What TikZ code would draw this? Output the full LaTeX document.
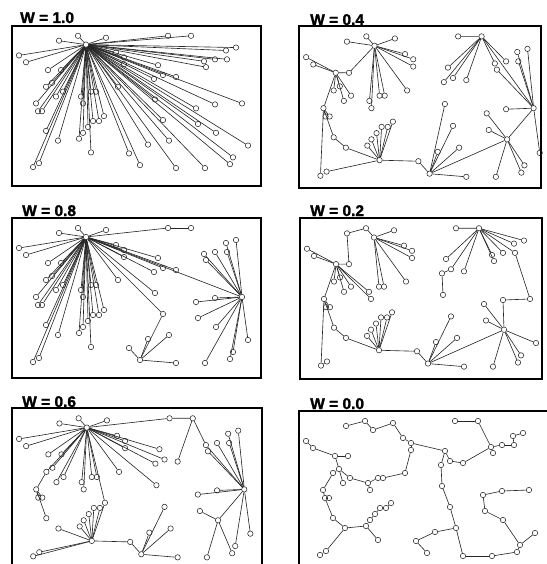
\documentclass[tikz,border=0pt]{standalone}
\usepackage{fontspec}
\setmainfont{Liberation Sans}
\newfontfamily\ttlfont[FakeBold=1.6]{Liberation Sans Bold}
\tikzset{
  pt/.style={circle,draw=black!85,line width=0.55pt,minimum size=5.4pt,inner sep=0pt},
  edge/.style={draw=black!85,line width=0.62pt},
  frame/.style={draw=black,line width=1.4pt},
  ttl/.style={anchor=base west,inner sep=0pt,font=\fontsize{15.5}{16}\selectfont\ttlfont}
}
\def\pts{a1/47/15,a2/66/10,a3/74/19,a4/94/12,a5/104/27,a6/112/32,a7/112/39,a8/106/62,b1/7/30,b2/14/37,b3/36/45,b4/49/45,b5/34/62,b6/40/58,b7/44/72,b8/51/67,b9/69/72,b10/71/79,b11/79/67,b12/84/67,c1/24/79,c2/26/87,c3/30/87,c4/34/107,c5/46/117,c6/67/115,c7/71/109,c8/76/103,c9/81/97,c10/87/97,c11/92/92,c12/79/129,c13/21/144,c14/27/140,d1/117/130,d2/128/142,d3/136/121,d4/157/117,d5/164/145,d6/193/145,d7/218/141,d8/221/134,d9/236/122,d10/204/109,d11/186/100,d12/184/84,d13/203/80,d14/230/79,e1/151/96,e2/143/75,e3/142/54,e4/146/40,e5/151/50,e6/164/52,e7/156/10,e8/179/10,e9/192/36,e10/194/42,e11/203/34,e12/215/34,e14/214/25,e15/224/22}
% #1 prefix, #2 #3 frame origin, #4 #5 scales, #6 edges
\newcommand\treepanel[6]{%
  \begin{scope}[shift={(#2,#3)},xscale=#4,yscale=#5]
    \foreach \n/\x/\y in \pts {\node[pt] (#1\n) at (\x,\y) {};}
    \foreach \u/\v in {#6} {\draw[edge] (#1\u) -- (#1\v);}
  \end{scope}}
\begin{document}
\begin{tikzpicture}[x=1pt,y=-1pt]
\useasboundingbox (0,0) rectangle (546,564);
% frames
\draw[frame] (12,26) rectangle (261,186);
\draw[frame] (299,26) rectangle (541,188);
\draw[frame] (12,218) rectangle (261,378);
\draw[frame] (300,218) rectangle (542,379);
\draw[frame] (12,566) -- (12,408) -- (262,408) -- (262,566);
\draw[frame] (299,566) -- (299,411) -- (548,411);
% titles
\node[ttl] (t1) at (20,23) {W = 1.0};
\node[ttl] (t2) at (310,25) {W = 0.4};
\node[ttl] (t3) at (22,216) {W = 0.8};
\node[ttl] (t4) at (310,216) {W = 0.2};
\node[ttl] (t5) at (22,407) {W = 0.6};
\node[ttl] (t6) at (310,409) {W = 0.0};
% W = 1.0
\treepanel{P}{12}{26}{1}{0.98}{a3/a1,a3/a2,a3/a4,a3/a5,a3/a6,a3/a7,a3/a8,a3/b1,a3/b2,a3/b3,a3/b4,a3/b5,a3/b6,a3/b7,a3/b8,a3/b9,a3/b10,a3/b11,a3/b12,a3/c1,a3/c2,a3/c3,a3/c4,a3/c5,a3/c6,a3/c7,a3/c8,a3/c9,a3/c10,a3/c11,a3/c12,a3/c13,a3/c14,a3/d1,a3/d2,a3/d3,a3/d4,a3/d5,a3/d6,a3/d7,a3/d8,a3/d9,a3/d10,a3/d11,a3/d12,a3/d13,a3/d14,a3/e1,a3/e2,a3/e3,a3/e4,a3/e5,a3/e6,a3/e7,a3/e8,a3/e9,a3/e10,a3/e11,a3/e12,a3/e14,a3/e15}
% W = 0.4
\treepanel{Q}{299}{26}{1.02}{1.04}{a3/a1,a3/a2,a3/a4,a3/a5,a3/a6,a3/a7,a3/a8,a3/b9,a3/b10,a3/b11,a3/b12,a3/b4,b4/b3,b3/b1,b3/b2,b3/b5,b3/b6,b3/b7,b3/b8,b3/c1,c1/c2,c1/c3,c1/c13,c1/c4,c4/c5,c5/c12,c12/c6,c12/c7,c12/c8,c12/c9,c12/c10,c12/c11,c12/c14,c12/d1,d1/d2,d2/d3,d2/d4,d2/d5,d2/e1,d2/e2,d2/d10,d10/d11,d10/d12,d10/d6,d10/d7,d10/d8,d10/d14,d14/d13,d14/d9,d14/e15,d14/e14,d14/e12,d14/e10,d14/e8,e8/e7,e8/e4,e8/e3,e8/e5,e8/e6,e8/e9,e8/e11}
% W = 0.8
\treepanel{R}{12}{218}{1}{1}{a3/a1,a3/a2,a3/a4,a3/a5,a3/a6,a3/a7,a3/a8,a3/b1,a3/b2,a3/b3,a3/b4,a3/b5,a3/b6,a3/b7,a3/b8,a3/b9,a3/b10,a3/b11,a3/b12,a3/c1,a3/c2,a3/c3,a3/c4,a3/c5,a3/c6,a3/c7,a3/c8,a3/c9,a3/c10,a3/c11,a3/c12,a3/c13,a3/c14,a3/e1,a3/e2,a3/e3,a3/e4,a3/e5,a3/e6,a3/e7,a3/d14,e7/e8,e1/d2,d2/d1,d2/d3,d2/d4,d2/d5,d14/d6,d14/d7,d14/d8,d14/d9,d14/d10,d14/d11,d14/d12,d14/d13,d14/e9,d14/e10,d14/e11,d14/e12,d14/e14,d14/e15}
% W = 0.2
\treepanel{S}{300}{218}{1}{1.025}{a3/a2,a3/a4,a3/a5,a3/a6,a3/a7,a3/a8,a3/b11,a3/b12,a2/a1,a1/b4,b4/b3,b3/b1,b3/b2,b3/b5,b3/b6,b3/b7,b3/b8,b3/b9,b3/b10,b3/c1,c1/c2,c1/c3,c1/c13,c1/c4,c13/c14,c4/c5,c5/c12,c12/c6,c12/c7,c12/c8,c12/c9,c12/c10,c12/c11,c12/d1,d1/d2,d2/d3,d2/d4,d2/d5,d2/e1,d2/d10,d10/d11,d10/d12,d10/d6,d10/d7,d10/d8,d10/d9,d10/d13,d13/d14,d14/e12,e8/e7,e8/e4,e8/e5,e8/e6,e8/e9,e8/e10,e8/e11,e8/e12,e8/e14,e8/e15,e5/e3,e3/e2}
% W = 0.6
\treepanel{T}{12}{408}{1.01}{1.03}{a3/a1,a3/a2,a3/a4,a3/a5,a3/a6,a3/a7,a3/a8,a3/b1,a3/b2,a3/b3,a3/b4,a3/b5,a3/b6,a3/b7,a3/b8,a3/b9,a3/b10,a3/b11,a3/b12,a3/e2,a3/e3,a3/e4,a3/e5,a3/e7,a3/c11,b5/c1,c1/c2,c1/c3,c1/c4,e7/e8,e8/e6,e8/e9,e9/d14,d14/e10,d14/e11,d14/e12,d14/e14,d14/e15,d14/d12,d14/d13,d14/d9,d14/d8,d14/d10,d10/d11,d10/d6,d10/d7,c11/c12,c12/c5,c12/c6,c12/c7,c12/c8,c12/c9,c12/c10,c12/c13,c12/c14,c12/d1,d1/d2,d2/d3,d2/d4,d2/d5,d2/e1}
% W = 0.0
\treepanel{U}{299}{411}{1}{1}{a1/a2,a2/a3,a3/a4,a4/a5,a5/a6,a6/a7,a7/a8,a6/e4,a8/b12,b12/b11,b11/b9,b9/b10,b9/b8,b8/b6,b6/b3,b3/b4,b3/b2,b2/b1,b6/b5,b6/b7,b5/c1,c1/c2,c2/c3,c2/c4,c4/c5,c5/c6,c6/c7,c7/c8,c8/c9,c9/c10,c10/c11,c6/c12,c5/c14,c14/c13,e4/e5,e5/e6,e6/e9,e9/e10,e9/e11,e11/e12,e12/e14,e14/e15,e9/e8,e8/e7,e4/e3,e3/e2,e2/e1,e1/d4,d4/d5,d5/d6,d6/d7,d7/d8,d8/d9,d8/d10,d10/d11,d11/d12,d12/d13,d13/d14,d4/d3,d3/d1,d1/d2}
\end{tikzpicture}
\end{document}
